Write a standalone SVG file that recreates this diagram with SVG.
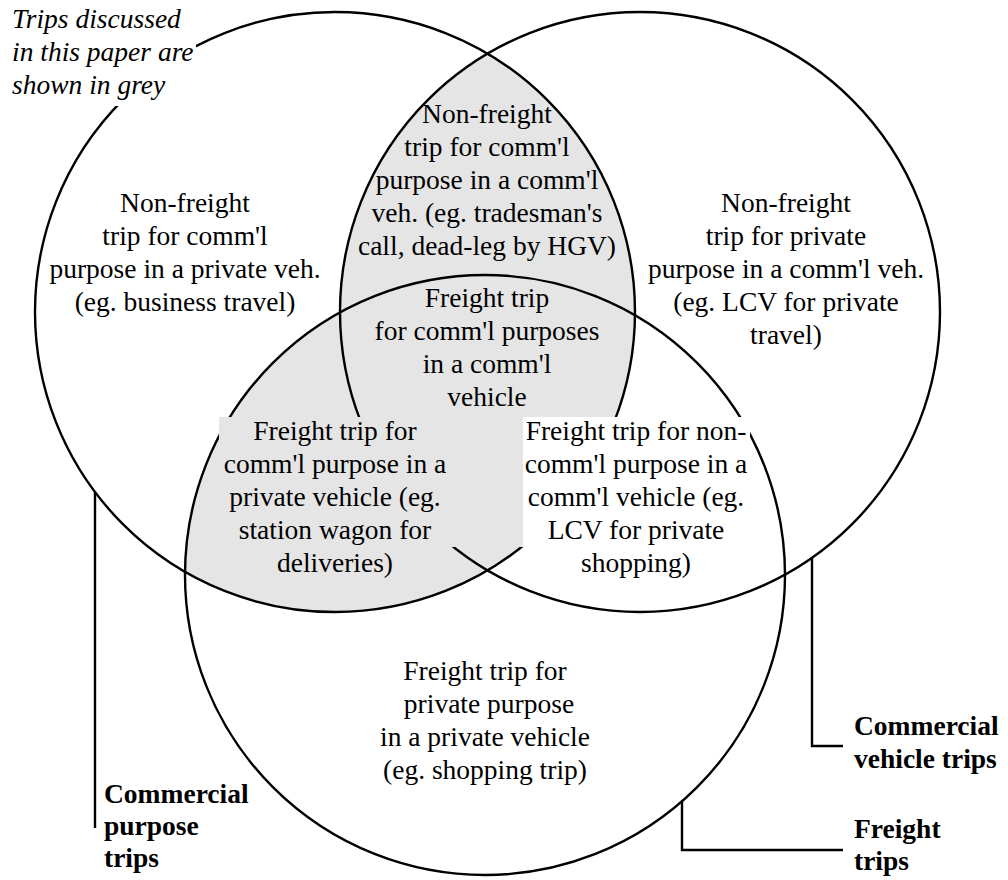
<svg xmlns="http://www.w3.org/2000/svg" width="1008" height="880" viewBox="0 0 1008 880">
<style>
.c{fill:none;stroke:#000;stroke-width:2.4}
.t{font-family:"Liberation Serif","Times New Roman",serif;font-size:27.5px;fill:#000;text-anchor:middle}
.i{font-family:"Liberation Serif","Times New Roman",serif;font-size:27.5px;font-style:italic;fill:#000}
.b{font-family:"Liberation Serif","Times New Roman",serif;font-size:27.5px;font-weight:bold;fill:#000}
.l{fill:none;stroke:#000;stroke-width:2.4}
</style>
<defs>
<clipPath id="rb">
<circle cx="640" cy="312" r="300"/>
<circle cx="485" cy="575" r="300"/>
</clipPath>
</defs>
<rect x="0" y="0" width="1008" height="880" fill="#fff"/>
<g id="grey-region">
<circle cx="335" cy="312" r="300" fill="#e5e5e5" clip-path="url(#rb)"/>
</g>
<g id="commercial-purpose-circle">
<circle class="c" cx="335" cy="312" r="300"/>
</g>
<g id="commercial-vehicle-circle">
<circle class="c" cx="640" cy="312" r="300"/>
</g>
<g id="freight-circle">
<circle class="c" cx="485" cy="575" r="300"/>
</g>
<g id="connectors">
<polyline class="l" points="95,492 95,828"/>
<polyline class="l" points="812,558 812,746 843,746"/>
<polyline class="l" points="682,801 682,850 843,850"/>
</g>
<g id="note">
<rect x="0" y="0" width="196" height="106" fill="#fff"/>
<text class="i" x="12" y="28">Trips discussed</text>
<text class="i" x="12" y="61">in this paper are</text>
<text class="i" x="12" y="94">shown in grey</text>
</g>
<g id="label-comm-purpose-private-veh">
<text class="t" x="185" y="212">Non-freight</text>
<text class="t" x="185" y="245">trip for comm'l</text>
<text class="t" x="185" y="278">purpose in a private veh.</text>
<text class="t" x="185" y="311">(eg. business travel)</text>
</g>
<g id="label-comm-purpose-comm-veh">
<text class="t" x="487" y="123">Non-freight</text>
<text class="t" x="487" y="156">trip for comm'l</text>
<text class="t" x="487" y="189">purpose in a comm'l</text>
<text class="t" x="487" y="222">veh. (eg. tradesman's</text>
<text class="t" x="487" y="255">call, dead-leg by HGV)</text>
</g>
<g id="label-private-purpose-comm-veh">
<text class="t" x="786" y="212">Non-freight</text>
<text class="t" x="786" y="245">trip for private</text>
<text class="t" x="786" y="278">purpose in a comm'l veh.</text>
<text class="t" x="786" y="311">(eg. LCV for private</text>
<text class="t" x="786" y="344">travel)</text>
</g>
<g id="label-freight-comm-comm">
<text class="t" x="487" y="307">Freight trip</text>
<text class="t" x="487" y="340">for comm'l purposes</text>
<text class="t" x="487" y="373">in a comm'l</text>
<text class="t" x="487" y="406">vehicle</text>
</g>
<g id="label-freight-comm-private">
<rect x="219" y="417" width="304" height="130" fill="#e5e5e5"/>
<text class="t" x="335" y="440">Freight trip for</text>
<text class="t" x="335" y="473">comm'l purpose in a</text>
<text class="t" x="335" y="506">private vehicle (eg.</text>
<text class="t" x="335" y="539">station wagon for</text>
<text class="t" x="335" y="572">deliveries)</text>
</g>
<g id="label-freight-noncomm-comm">
<rect x="523" y="417" width="227" height="130" fill="#fff"/>
<text class="t" x="636" y="440">Freight trip for non-</text>
<text class="t" x="636" y="473">comm'l purpose in a</text>
<text class="t" x="636" y="506">comm'l vehicle (eg.</text>
<text class="t" x="636" y="539">LCV for private</text>
<text class="t" x="636" y="572">shopping)</text>
</g>
<g id="label-freight-private-private">
<text class="t" x="485" y="680">Freight trip for</text>
<text class="t" x="489" y="713">private purpose</text>
<text class="t" x="485" y="746">in a private vehicle</text>
<text class="t" x="485" y="779">(eg. shopping trip)</text>
</g>
<g id="title-commercial-purpose">
<text class="b" x="104" y="803">Commercial</text>
<text class="b" x="104" y="835">purpose</text>
<text class="b" x="104" y="867">trips</text>
</g>
<g id="title-commercial-vehicle">
<text class="b" x="854" y="735">Commercial</text>
<text class="b" x="854" y="768">vehicle trips</text>
</g>
<g id="title-freight">
<text class="b" x="854" y="838">Freight</text>
<text class="b" x="854" y="870">trips</text>
</g>
</svg>
